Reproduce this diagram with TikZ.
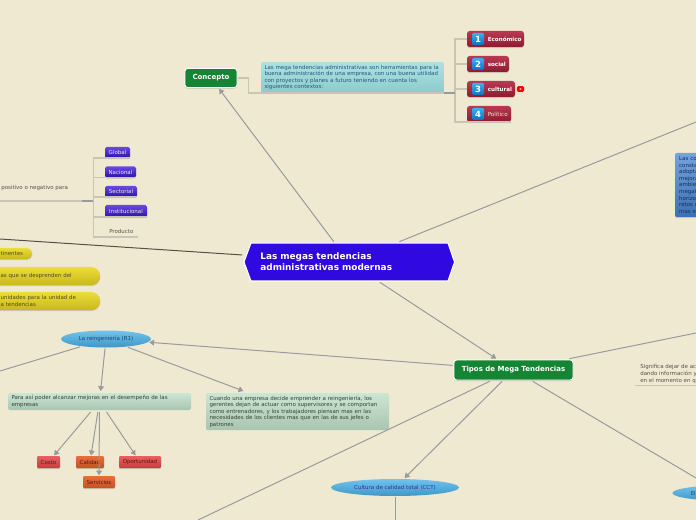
\documentclass[tikz,border=0pt]{standalone}
\usepackage{fontspec}
\setmainfont{DejaVu Sans}
\usetikzlibrary{arrows.meta,shapes.geometric,shapes.misc,shadows}
\definecolor{paper}{HTML}{F0E9D2}
\definecolor{trunkc}{HTML}{C9C5B5}
\definecolor{linkc}{HTML}{9A9A9C}
\definecolor{centralc}{HTML}{3008E0}
\definecolor{greenc}{HTML}{158433}
\definecolor{cyanA}{HTML}{ACE3E2}\definecolor{cyanB}{HTML}{A4DCDB}\definecolor{cyanC}{HTML}{8CCBCA}
\definecolor{sageA}{HTML}{CBE6D2}\definecolor{sageB}{HTML}{BCD8C4}\definecolor{sageC}{HTML}{A9C4B0}
\definecolor{bluA}{HTML}{75A3DC}\definecolor{bluB}{HTML}{5A8CCB}\definecolor{bluC}{HTML}{3C6FB4}
\definecolor{redA}{HTML}{B73A52}\definecolor{redB}{HTML}{A31D38}\definecolor{redC}{HTML}{8E1A30}
\definecolor{numA}{HTML}{3AB0EE}\definecolor{numB}{HTML}{1290DC}\definecolor{numC}{HTML}{0B72C4}
\definecolor{vioA}{HTML}{6A48E6}\definecolor{vioB}{HTML}{4425D0}\definecolor{vioC}{HTML}{2A12A8}
\definecolor{yelA}{HTML}{EBDD3A}\definecolor{yelB}{HTML}{E2D22C}\definecolor{yelC}{HTML}{C8B81A}
\definecolor{ovaA}{HTML}{70C4EC}\definecolor{ovaB}{HTML}{58B2E2}\definecolor{ovaC}{HTML}{3F96C8}
\definecolor{chrA}{HTML}{E86060}\definecolor{chrB}{HTML}{DE4A4A}\definecolor{chrC}{HTML}{C83C3C}
\definecolor{choA}{HTML}{E86E3E}\definecolor{choB}{HTML}{DC5E2C}\definecolor{choC}{HTML}{C45020}
\definecolor{inkcyan}{HTML}{2A5480}
\definecolor{inksage}{HTML}{354435}
\definecolor{inkblue}{HTML}{12305C}
\definecolor{inknote}{HTML}{55514A}
\definecolor{inkyel}{HTML}{544C1C}
\definecolor{inkoval}{HTML}{1F4468}
\definecolor{inkcct}{HTML}{3A2E96}
\definecolor{inkchip}{HTML}{5C1414}
\tikzset{
  x=0.75pt,y=-0.75pt,
  small/.style={font=\fontsize{4.12}{4.9}\selectfont},
  bsize/.style 2 args={minimum width=#1*0.75pt,minimum height=#2*0.75pt,inner sep=0pt},
  shade3/.style n args={3}{top color=#1,middle color=#2,bottom color=#3},
  shd/.style={drop shadow={shadow xshift=0pt,shadow yshift=-0.8pt,fill=trunkc,opacity=1}},
  link/.style={draw=linkc,line width=0.75pt},
  arr/.style={link,-{Triangle[length=3.6pt,width=4.4pt,fill=linkc]}},
  trunk/.style={draw=trunkc,line width=1.1pt},
  maintopic/.style={rounded corners=2pt,shd,draw=white,line width=0.7pt,fill=greenc,text=white,outer sep=1pt,
     font=\fontsize{5.25}{6.4}\bfseries\selectfont},
  cyanbox/.style={rounded corners=1.5pt,shade3={cyanA}{cyanB}{cyanC},small,align=left,text=inkcyan,outer sep=0pt},
  sagebox/.style={rounded corners=1.5pt,shade3={sageA}{sageB}{sageC},small,align=left,text=inksage,outer sep=1.5pt},
  bluebox/.style={rounded corners=1.5pt,shd,shade3={bluA}{bluB}{bluC},small,align=left,text=inkblue,outer sep=0pt,anchor=north west},
  note/.style={small,align=left,text=inknote,inner sep=0pt},
  redbox/.style={rounded corners=2pt,shd,shade3={redA}{redB}{redC},outer sep=0pt,anchor=west},
  numbox/.style={rounded corners=1pt,shade3={numA}{numB}{numC},text=white,minimum size=9pt,inner sep=0pt,
     font=\fontsize{6.4}{7}\bfseries\selectfont},
  redlabel/.style={anchor=west,inner sep=0pt,text=white,font=\fontsize{4.2}{5}\bfseries\selectfont},
  violetbox/.style={rounded corners=1.2pt,shd,shade3={vioA}{vioB}{vioC},text=paper,small,inner sep=0pt,outer sep=0pt,anchor=west},
  pill/.style={shd,shade3={yelA}{yelB}{yelC},text=inkyel,small,align=left,anchor=west},
  oval/.style={ellipse,shade3={ovaA}{ovaB}{ovaC},inner sep=0pt,outer sep=0.8pt,small},
  redchip/.style={rounded corners=0.8pt,shd,small,text=inkchip,inner sep=0pt,outer sep=0.5pt,shade3={chrA}{chrB}{chrC}},
  orangechip/.style={rounded corners=0.8pt,shd,small,text=inkchip,inner sep=0pt,outer sep=0.5pt,shade3={choA}{choB}{choC}},
}
\begin{document}
\begin{tikzpicture}
\useasboundingbox (0,0) rectangle (696,520);
\fill[paper] (0,0) rectangle (696,520);
\clip (0,0) rectangle (696,520);

% free ends
\coordinate (fTR) at (696,122);
\coordinate (fL) at (0,239);
\coordinate (fR) at (696,333);
\coordinate (fBL) at (198,520);
\coordinate (fBR) at (696,478);
\coordinate (fRL) at (0,371);
\coordinate (fCD) at (395,520);
\coordinate (posl) at (0,201);
\coordinate (posr) at (82,201);
\coordinate (ltrunk) at (93.5,201);
\coordinate (sigl) at (635,385);
\coordinate (sigr) at (696,385);

% central topic: hexagon outline, then its text node
\draw[white,line width=0.8pt,fill=centralc] (244,262) -- (251,243) -- (448,243) -- (454.5,262) -- (448,281) -- (251,281) -- cycle;
\node[bsize={211}{38},outer sep=1pt,text=white,text width=133pt,align=left,
      font=\fontsize{6.7}{8.3}\bfseries\selectfont] (root) at (349,262)
      {Las megas tendencias\\administrativas modernas};

% main topics
\node[maintopic,bsize={52}{19}] (concepto) at (211,78) {Concepto};
\node[maintopic,bsize={119}{20}] (tipos) at (513.5,370) {Tipos de Mega Tendencias};

% concept branch
\node[cyanbox,bsize={183}{31},anchor=north west,text width=132pt] (ctx) at (261,62)
  {Las mega tendencias administrativas son herramientas para la\\
   buena administración de una empresa, con una buena utilidad\\
   con proyectos y planes a futuro teniendo en cuenta los\\
   siguientes contextos:};
\node[redbox,bsize={57}{16}] (eco) at (467,39) {};
\node[redbox,bsize={42}{16}] (soc) at (467,64) {};
\node[redbox,bsize={48}{16}] (cul) at (467,89) {};
\node[redbox,bsize={44}{16}] (pol) at (467,114) {};
\node[numbox] (n1) at (478,39) {1};
\node[numbox] (n2) at (478,64) {2};
\node[numbox] (n3) at (478,89) {3};
\node[numbox] (n4) at (478,114) {4};
\node[redlabel] (t1) at (487.5,39) {Económico};
\node[redlabel] (t2) at (487.5,64) {social};
\node[redlabel] (t3) at (487.5,89) {cultural};
\node[redlabel,text=paper,font=\fontsize{4.2}{5}\selectfont] (t4) at (487.5,114) {Político};
\node[fill=red,rounded corners=1pt,minimum width=5.4pt,minimum height=4.2pt,inner sep=0pt] (flag) at (520.5,89) {};
\fill[white!70!red] (flag) circle (1.2);

\draw[trunk] (concepto.east) -- ++(10,0) |- (ctx.south west) -- (ctx.south east) -- ++(11,0) coordinate (ctrunk);
\draw[trunk] (ctrunk) |- (eco.west);
\draw[trunk] (ctrunk) |- (soc.west);
\draw[trunk] (ctrunk) |- (cul.west);
\draw[trunk] (ctrunk) |- (pol.south west) -- (pol.south east);
\draw[draw=linkc,line width=1.1pt] (ctx.south east) -- (ctrunk);

% left branch
\node[note,anchor=west] (pos) at (1,188) {positivo o negativo para};
\node[violetbox,bsize={25}{11}] (glo) at (105,152.5) {Global};
\node[violetbox,bsize={31}{11}] (nac) at (105,172) {Nacional};
\node[violetbox,bsize={32}{11}] (sec) at (105,191.5) {Sectorial};
\node[violetbox,bsize={42}{12}] (ins) at (105,211) {Institucional};
\node[note,anchor=west] (pro) at (109,231) {Producto};
\coordinate (prol) at (105,237);
\coordinate (pror) at (138,237);
\draw[trunk] (posl) -- (posr);
\draw[draw=linkc,line width=1.1pt] (posr) -- (ltrunk);
\draw[trunk] (ltrunk) |- (glo.south west) -- (glo.south east);
\draw[trunk] (ltrunk) |- (nac.south west) -- (nac.south east);
\draw[trunk] (ltrunk) |- (sec.south west) -- (sec.south east);
\draw[trunk] (ltrunk) |- (ins.south west) -- (ins.south east);
\draw[trunk] (ltrunk) |- (prol) -- (pror);

% yellow pills
\node[pill,rounded corners=4pt,bsize={42}{11},inner xsep=7.5pt,text width=16pt] (y1) at (-10,253.5) {tinentes};
\node[pill,rounded corners=6.7pt,bsize={110}{18},inner xsep=7.5pt,text width=67pt] (y2) at (-10,276) {as que se desprenden del};
\node[pill,rounded corners=6.7pt,bsize={110}{18},inner xsep=7.5pt,text width=67pt] (y3) at (-10,301) {unidades para la unidad de\\a tendencias};

% tipos sub topics
\node[oval,bsize={90}{17},text=inkoval] (re) at (106,339) {La reingeniería (R1)};
\node[oval,bsize={128}{17},text=inkcct] (cct) at (395,487.5) {Cultura de calidad total (CCT)};
\node[oval,minimum width=88pt,minimum height=12pt,inner sep=0pt] (el) at (731,493) {};
\node[small,anchor=west,inner sep=0pt,text=inkoval] (elt) at (690.5,493) {El};

\node[sagebox,bsize={183}{17},text width=132pt] (para) at (99.5,401.5)
  {Para así poder alcanzar mejoras en el desempeño de las\\empresas};
\node[sagebox,bsize={183}{37},text width=132pt] (cuando) at (297.5,411.5)
  {Cuando una empresa decide emprender a reingeniería, los\\
   gerentes dejan de actuar como supervisores y se comportan\\
   como entrenadores, y los trabajadores piensan mas en las\\
   necesidades de los clientes mas que en las de sus jefes o\\
   patrones};

\node[redchip,bsize={23}{12}] (costo) at (48.5,462) {Costo};
\node[orangechip,bsize={28}{12}] (cal) at (90,462) {Calidad};
\node[redchip,bsize={42}{12}] (opo) at (140,462) {Oportunidad};
\node[orangechip,bsize={32}{12}] (ser) at (99,482) {Servicios};

\node[bluebox,bsize={55}{64},text width=35pt,inner xsep=3pt] (blu) at (675,153)
  {Las co\\consta\\adopta\\mejora\\ambie\\megat\\horizo\\retos c\\mas e};

\node[note,anchor=north west] (sig) at (640,364.5)
  {Significa dejar de ac\\dando información y\\en el momento en q};
\draw[trunkc,line width=0.7pt] (sigl) -- (sigr);

% connectors
\draw[arr] (root) -- (concepto);
\draw[link] (root) -- (fTR);
\draw[draw=inknote,line width=0.75pt] (root) -- (fL);
\draw[arr] (root) -- (tipos);
\draw[arr] (tipos) -- (re);
\draw[link] (tipos) -- (fR);
\draw[link] (tipos) -- (fBL);
\draw[arr] (tipos) -- (cct);
\draw[link] (tipos) -- (fBR);
\draw[link] (re) -- (fRL);
\draw[arr] (re) -- (para);
\draw[arr] (re) -- (cuando);
\draw[arr] (para) -- (costo);
\draw[arr] (para) -- (cal);
\draw[arr] (para) -- (ser);
\draw[arr] (para) -- (opo);
\draw[link] (cct) -- (fCD);
\end{tikzpicture}
\end{document}
